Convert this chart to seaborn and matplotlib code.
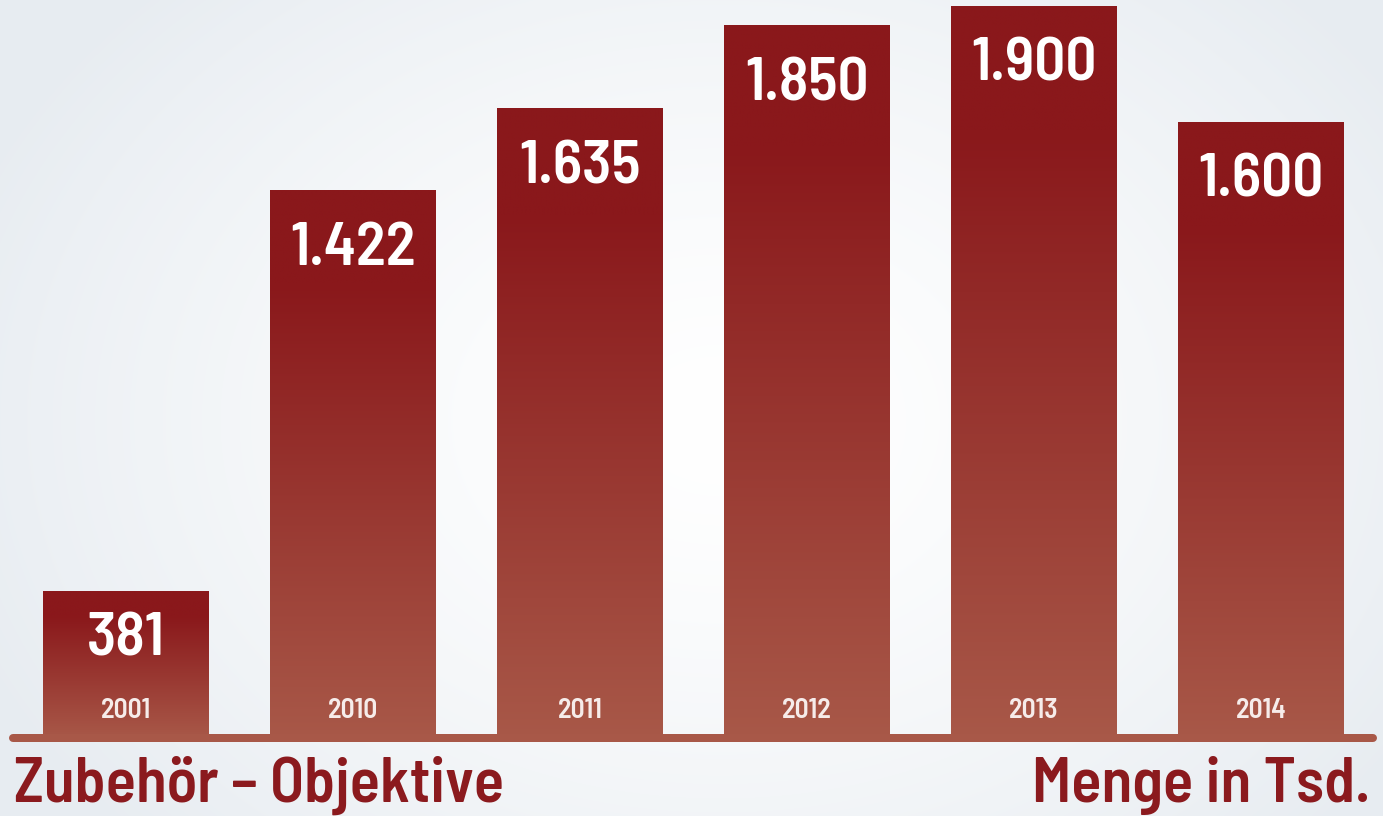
import numpy as np
import pandas as pd
import matplotlib
matplotlib.use("Agg")
import matplotlib.pyplot as plt
import seaborn as sns
from matplotlib.colors import LinearSegmentedColormap
from matplotlib.lines import Line2D

# ---- data ----
years = ["2001", "2010", "2011", "2012", "2013", "2014"]
values = [381, 1422, 1635, 1850, 1900, 1600]
value_labels = ["381", "1.422", "1.635", "1.850", "1.900", "1.600"]
title_left = "Zubehör – Objektive"
title_right = "Menge in Tsd."

W, H, DPI = 1383, 816, 100
FONT = ["Barlow Semi Condensed", "DejaVu Sans"]
DARK = "#8A181B"
LIGHT = "#A85848"
TEXT_RED = "#8B1A1E"

sns.set_theme(style="white")
plt.rcParams["font.family"] = FONT

fig = plt.figure(figsize=(W / DPI, H / DPI), dpi=DPI)

# ---- background radial gradient ----
bg = fig.add_axes([0, 0, 1, 1], zorder=0)
yy, xx = np.mgrid[0:H, 0:W]
cx, cy = 720, 420
d = np.sqrt(((xx - cx) / 820.0) ** 2 + ((yy - cy) / 620.0) ** 2)
t = np.clip(d, 0, 1) ** 1.4
c0 = np.array([1.0, 1.0, 1.0])
c1 = np.array([0xE7, 0xEC, 0xF1]) / 255.0
img = c0[None, None, :] * (1 - t[..., None]) + c1[None, None, :] * t[..., None]
bg.imshow(img, extent=[0, W, H, 0], aspect="auto")
bg.set_xlim(0, W)
bg.set_ylim(H, 0)
bg.axis("off")

# ---- bars ----
base_px = 738
ax = fig.add_axes([0, (H - base_px) / H, 1, base_px / H], zorder=1)
ax.patch.set_alpha(0)
df = pd.DataFrame({"year": years, "value": values})
sns.barplot(data=df, x="year", y="value", color=DARK, width=0.73,
            saturation=1, ax=ax, edgecolor="none")
ymax = base_px / (732 / 1900)
xlim = ((0 - 126) / 227, (W - 126) / 227)
ax.set_ylim(0, ymax)
ax.set_xlim(*xlim)
ax.axis("off")

cmap = LinearSegmentedColormap.from_list("bar", [(0, LIGHT), (0.83, DARK), (1, DARK)])
grad = np.linspace(0, 1, 256).reshape(-1, 1)
px_per_unit = base_px / ymax
pt = 72 / DPI
for p, lab, yr in zip(ax.patches, value_labels, years):
    x0, w, h = p.get_x(), p.get_width(), p.get_height()
    im = ax.imshow(grad, cmap=cmap, origin="lower", aspect="auto",
                   extent=[x0, x0 + w, 0, h], zorder=2, interpolation="bilinear")
    im.set_clip_path(p)
    xc = x0 + w / 2
    h_px = h * px_per_unit
    off_px = min(75, h_px * 0.435)
    ax.annotate(lab, (xc, h), xytext=(0, -off_px * pt), textcoords="offset points",
                ha="center", va="baseline", color="white", fontsize=44,
                fontweight=600, family=FONT, zorder=3)
    ax.annotate(yr, (xc, 0), xytext=(0, 20 * pt), textcoords="offset points",
                ha="center", va="baseline", color="#F6ECEA", fontsize=20,
                fontweight=600, family=FONT, zorder=3)
ax.set_xlim(*xlim)
ax.set_ylim(0, ymax)

# ---- baseline ----
fig.add_artist(Line2D([13 / W, 1373 / W], [(H - base_px) / H] * 2,
                      color=LIGHT, lw=8 * pt, solid_capstyle="round",
                      transform=fig.transFigure, zorder=1.5))

# ---- bottom labels ----
fig.text(14 / W, (H - 802) / H, title_left, ha="left", va="baseline",
         color=TEXT_RED, fontsize=45, fontweight=600, family=FONT, zorder=5)
fig.text(1370 / W, (H - 802) / H, title_right, ha="right", va="baseline",
         color=TEXT_RED, fontsize=45, fontweight=600, family=FONT, zorder=5)

fig.savefig("out.png", dpi=DPI)
